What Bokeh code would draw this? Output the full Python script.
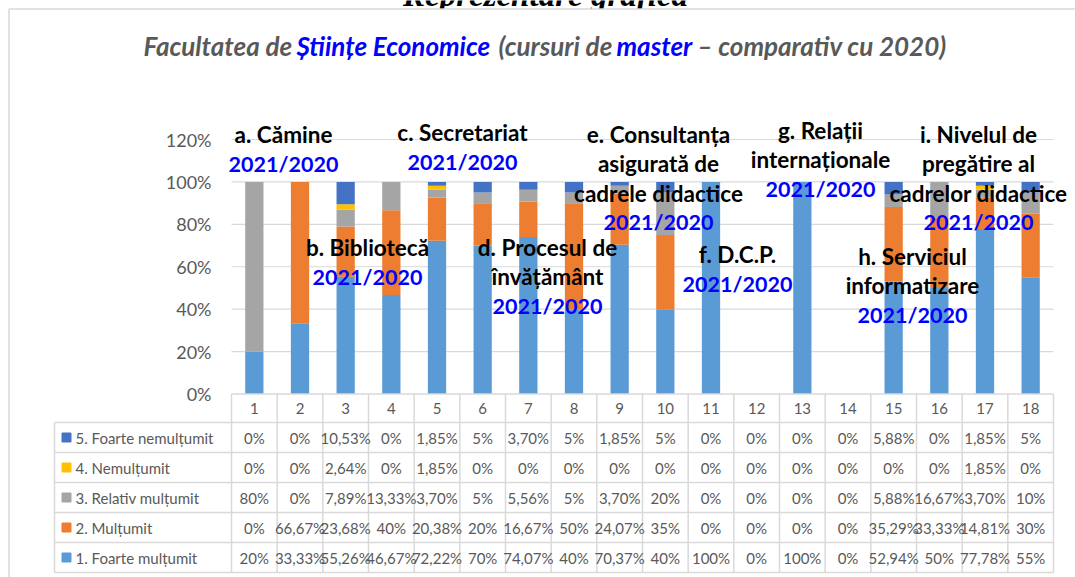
from bokeh.plotting import figure
from bokeh.models import Range1d, ColumnDataSource
from bokeh.core.properties import value
from bokeh.embed import file_html
from bokeh.resources import INLINE

# ---------------- data ----------------
categories = [str(i) for i in range(1, 19)]
series_names = ["1. Foarte mulțumit", "2. Mulțumit", "3. Relativ mulțumit",
                "4. Nemulțumit", "5. Foarte nemulțumit"]
foarte_multumit = [20, 33.33, 55.26, 46.67, 72.22, 70, 74.07, 40, 70.37, 40, 100, 0, 100, 0, 52.94, 50, 77.78, 55]
multumit = [0, 66.67, 23.68, 40, 20.38, 20, 16.67, 50, 24.07, 35, 0, 0, 0, 0, 35.29, 33.33, 14.81, 30]
relativ_multumit = [80, 0, 7.89, 13.33, 3.70, 5, 5.56, 5, 3.70, 20, 0, 0, 0, 0, 5.88, 16.67, 3.70, 10]
nemultumit = [0, 0, 2.64, 0, 1.85, 0, 0, 0, 0, 0, 0, 0, 0, 0, 0, 0, 1.85, 0]
foarte_nemultumit = [0, 0, 10.53, 0, 1.85, 5, 3.70, 5, 1.85, 5, 0, 0, 0, 0, 5.88, 0, 1.85, 5]
series_values = [foarte_multumit, multumit, relativ_multumit, nemultumit, foarte_nemultumit]
colors = ["#5B9BD5", "#ED7D31", "#A5A5A5", "#FFC000", "#4472C4"]
y_ticks = [0, 20, 40, 60, 80, 100, 120]
y_tick_labels = [f"{t}%" for t in y_ticks]

title_text = "Reprezentare grafică"
subtitle_parts = [("Facultatea de", "#595959"), ("Științe Economice", "#0000FF"),
                  ("(cursuri de", "#595959"), ("master", "#0000FF"),
                  ("– comparativ cu 2020)", "#595959")]
year_label = "2021/2020"
annotations = [
    ["a. Cămine"], ["b. Bibliotecă"], ["c. Secretariat"],
    ["d. Procesul de", "învățământ"],
    ["e. Consultanța", "asigurată de", "cadrele didactice"],
    ["f. D.C.P."], ["g. Relații", "internaționale"],
    ["h. Serviciul", "informatizare"],
    ["i. Nivelul de", "pregătire al", "cadrelor didactice"],
]

# ---------------- layout (page pixels) ----------------
W, H = 1075, 577
PLOT_L, PLOT_R = 231, 1053
Y0, Y120 = 393.5, 139.0
cat_w = (PLOT_R - PLOT_L) / len(categories)
ppu = (Y0 - Y120) / 120.0
ann_x = [283, 367, 462, 547, 658, 737, 820, 912, 978]
ann_y = [134, 247, 132, 247, 134, 254, 130, 256, 134]
LINE_H = 29.3
ROW_TOP = 422.0
ROW_H = 30.0
LEG_L = 54
FRAME = 8.5
GRID = "#D9D9D9"
TXT = "#595959"
FONT = value("Lato")
sub_x = [143, 296, 498, 616, 697]
SUB_Y = 45

p = figure(width=W, height=H, output_backend="svg", toolbar_location=None,
           x_range=Range1d(0.5 - PLOT_L / cat_w, 0.5 + (W - PLOT_L) / cat_w),
           y_range=Range1d(-(H - Y0) / ppu, Y0 / ppu),
           x_axis_location=None, y_axis_location=None, min_border=0)
p.grid.visible = False
p.outline_line_color = None
p.background_fill_color = "white"
p.border_fill_color = "white"
p.extra_x_ranges = {"px": Range1d(0, W)}
p.extra_y_ranges = {"py": Range1d(H, 0)}

# cut-off document heading above the chart box
p.text(x=[545], y=[-6], text=[title_text], x_range_name="px", y_range_name="py",
       text_font=value("Liberation Serif"), text_font_size="33px", text_font_style="bold italic",
       text_color="black", text_align="center", text_baseline="middle")
# chart box (white) covering below the heading, with left/top border
p.quad(left=[FRAME], right=[W + 5], top=[FRAME], bottom=[H + 5], fill_color="white",
       line_color=None, x_range_name="px", y_range_name="py")
p.segment(x0=[FRAME, FRAME], y0=[FRAME, FRAME], x1=[FRAME, W], y1=[H, FRAME],
          line_color=GRID, line_width=1.5, x_range_name="px", y_range_name="py")

# gridlines
gy = y_ticks[1:]
p.segment(x0=[0.5] * len(gy), y0=gy, x1=[len(categories) + 0.5] * len(gy), y1=gy,
          line_color=GRID, line_width=1.2)

# y tick labels
p.text(x=[211] * len(y_ticks), y=y_ticks, text=y_tick_labels, x_range_name="px",
       text_font=FONT, text_font_size="18px", text_color=TXT,
       text_align="right", text_baseline="middle")

# stacked bars
xs = list(range(1, len(categories) + 1))
keys = [f"s{i}" for i in range(len(series_values))]
data = {"x": xs}
for k, v in zip(keys, series_values):
    data[k] = v
src = ColumnDataSource(data)
p.vbar_stack(keys, x="x", width=0.4, color=colors, line_width=0, source=src)

# ---------------- data table ----------------
n = len(categories)
bounds = [i + 0.5 for i in range(n + 1)]
p.segment(x0=bounds, y0=[Y0] * len(bounds), x1=bounds, y1=[ROW_TOP + 5 * ROW_H] * len(bounds),
          line_color=GRID, line_width=1.5, y_range_name="py")
p.segment(x0=[0.5], y0=[Y0], x1=[n + 0.5], y1=[Y0], line_color=GRID, line_width=1.5, y_range_name="py")
row_lines = [ROW_TOP + i * ROW_H for i in range(6)]
p.segment(x0=[LEG_L] * 6, y0=row_lines, x1=[PLOT_R] * 6, y1=row_lines,
          line_color=GRID, line_width=1.5, x_range_name="px", y_range_name="py")
p.segment(x0=[LEG_L], y0=[ROW_TOP], x1=[LEG_L], y1=[ROW_TOP + 5 * ROW_H],
          line_color=GRID, line_width=1.5, x_range_name="px", y_range_name="py")

p.text(x=xs, y=[(Y0 + ROW_TOP) / 2] * n, text=categories, y_range_name="py",
       text_font=FONT, text_font_size="15px", text_color=TXT,
       text_align="center", text_baseline="middle")


def fmt(v):
    if abs(v - round(v)) < 1e-9:
        return f"{int(round(v))}%"
    return f"{v:.2f}".replace(".", ",") + "%"


order = [4, 3, 2, 1, 0]
for r, si in enumerate(order):
    yc = ROW_TOP + ROW_H * (r + 0.5)
    p.text(x=xs, y=[yc] * n, text=[fmt(v) for v in series_values[si]], y_range_name="py",
           text_font=FONT, text_font_size="15px", text_color=TXT,
           text_align="center", text_baseline="middle")
    p.scatter(x=[66], y=[yc], marker="square", size=9, color=colors[si],
              x_range_name="px", y_range_name="py")
    p.text(x=[75], y=[yc], text=[series_names[si]], x_range_name="px", y_range_name="py",
           text_font=FONT, text_font_size="15px", text_color=TXT,
           text_align="left", text_baseline="middle")

# ---------------- annotations ----------------
for lines, ax, ay in zip(annotations, ann_x, ann_y):
    ys = [ay + i * LINE_H for i in range(len(lines))]
    p.text(x=[ax] * len(lines), y=ys, text=lines, x_range_name="px", y_range_name="py",
           text_font=FONT, text_font_size="22.5px", text_font_style="bold", text_color="black",
           text_align="center", text_baseline="middle")
    p.text(x=[ax], y=[ay + len(lines) * LINE_H], text=[year_label], x_range_name="px", y_range_name="py",
           text_font=FONT, text_font_size="21.5px", text_font_style="bold", text_color="#0000FF",
           text_align="center", text_baseline="middle")

# ---------------- subtitle ----------------
for (t, c), sx in zip(subtitle_parts, sub_x):
    p.text(x=[sx], y=[SUB_Y], text=[t], x_range_name="px", y_range_name="py",
           text_font=FONT, text_font_size="26px", text_font_style="bold italic", text_color=c,
           text_align="left", text_baseline="middle")

open("out.html", "w").write(file_html(p, INLINE))
